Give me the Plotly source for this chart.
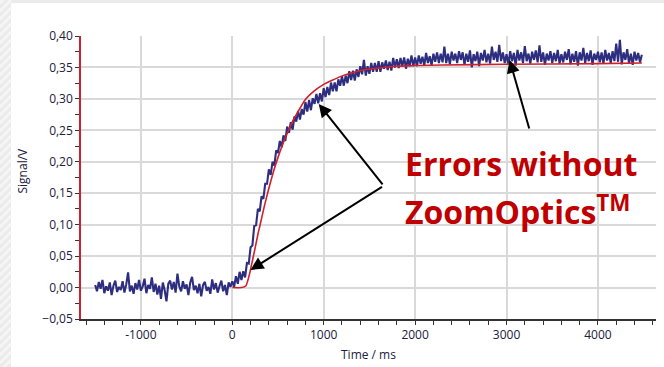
import plotly.graph_objects as go

# ---------------- data ----------------
time_start_ms = -1500
time_step_ms = 20

signal_baseline = [
    0.004, -0.006, 0.009, -0.002, 0.012, -0.009, 0.002, -0.005, 0.008, -0.012,
    0.003, 0.011, -0.007, 0.001, -0.004, 0.010, -0.008, 0.005, 0.024, -0.006,
    0.003, -0.010, 0.007, -0.003, 0.012, -0.005, 0.002, 0.014, -0.009, 0.004,
    -0.002, 0.016, -0.007, 0.006, -0.011, 0.003, -0.018, 0.008, -0.004, -0.022,
    0.006, 0.011, -0.003, 0.009, -0.008, 0.022, 0.002, -0.006, 0.010, -0.002,
    0.005, -0.012, 0.008, 0.017, -0.004, 0.003, -0.009, 0.006, -0.014, 0.004,
    0.009, -0.005, 0.001, -0.010, 0.013, -0.003, 0.007, -0.008, 0.002, 0.011,
    -0.006, 0.004, -0.012, 0.008, 0.001,
]
signal_rise = [
    0.010, 0.001, 0.018, 0.006, 0.025, 0.012, 0.026, 0.016, 0.039, 0.038,
    0.064, 0.067, 0.098, 0.099, 0.125, 0.121, 0.145, 0.141, 0.165, 0.165,
    0.188, 0.179, 0.200, 0.194, 0.218, 0.214, 0.233, 0.223, 0.242, 0.233,
    0.256, 0.246, 0.263, 0.251, 0.272, 0.264, 0.281, 0.267, 0.284, 0.275,
    0.295, 0.280, 0.298, 0.282, 0.301, 0.292, 0.308, 0.293, 0.309, 0.296,
    0.317, 0.303, 0.319, 0.306, 0.326, 0.312, 0.326, 0.312, 0.331, 0.321,
    0.336, 0.321, 0.337, 0.325, 0.344, 0.330, 0.345, 0.329, 0.347, 0.335,
    0.352, 0.339, 0.362, 0.337, 0.352, 0.340, 0.357, 0.343, 0.357, 0.343,
    0.360, 0.343, 0.358, 0.348, 0.361, 0.346, 0.359, 0.345, 0.365, 0.350,
    0.363, 0.349, 0.365, 0.352, 0.366, 0.348, 0.364, 0.352, 0.369, 0.352,
]
signal_plateau = [
    0.366, 0.352, 0.369, 0.356, 0.367, 0.353, 0.373, 0.357, 0.368, 0.353,
    0.372, 0.359, 0.374, 0.357, 0.372, 0.358, 0.383, 0.357, 0.372, 0.355,
    0.375, 0.361, 0.372, 0.357, 0.376, 0.362, 0.374, 0.354, 0.372, 0.359,
    0.377, 0.350, 0.371, 0.360, 0.375, 0.352, 0.373, 0.361, 0.378, 0.358,
    0.372, 0.356, 0.383, 0.362, 0.375, 0.359, 0.386, 0.360, 0.374, 0.357,
    0.371, 0.355, 0.376, 0.360, 0.373, 0.353, 0.378, 0.361, 0.374, 0.357,
    0.384, 0.360, 0.372, 0.356, 0.375, 0.362, 0.377, 0.358, 0.385, 0.359,
    0.374, 0.354, 0.372, 0.361, 0.376, 0.357, 0.373, 0.360, 0.378, 0.356,
    0.371, 0.358, 0.375, 0.362, 0.379, 0.355, 0.372, 0.359, 0.376, 0.353,
    0.374, 0.361, 0.381, 0.357, 0.373, 0.360, 0.377, 0.354, 0.372, 0.362,
    0.375, 0.358, 0.374, 0.356, 0.378, 0.361, 0.373, 0.357, 0.376, 0.360,
    0.388, 0.359, 0.394, 0.355, 0.374, 0.362, 0.379, 0.356, 0.372, 0.354,
    0.375, 0.361, 0.373, 0.358, 0.370,
]
signal_v = signal_baseline + signal_rise + signal_plateau
time_ms = [time_start_ms + i * time_step_ms for i in range(len(signal_v))]

fit_time_ms = [0, 100, 150, 191, 200, 250, 282, 300, 350, 400, 450, 500, 555, 600,
               665, 700, 800, 900, 957, 1000, 1100, 1175, 1300, 1430, 1600, 1795,
               2000, 2300, 3000, 4000, 4480]
fit_v = [0.0, 0.0, 0.003, 0.023, 0.029, 0.063, 0.086, 0.097, 0.129, 0.158, 0.184,
         0.207, 0.229, 0.245, 0.266, 0.275, 0.299, 0.313, 0.319, 0.323, 0.330,
         0.335, 0.341, 0.346, 0.349, 0.352, 0.353, 0.354, 0.355, 0.356, 0.357]

x_tick_vals = [-1000, 0, 1000, 2000, 3000, 4000]
y_tick_vals = [-0.05, 0.0, 0.05, 0.10, 0.15, 0.20, 0.25, 0.30, 0.35, 0.40]

# arrow tips (data) and tails (pixel offsets)
arrow_tip_ms = [199, 946, 3034]
arrow_tip_v = [0.028, 0.292, 0.362]
arrow_ax = [133, 65, 20]
arrow_ay = [-84, 82, 70]

# ---------------- figure ----------------
BLUE = "#2e2e80"
RED = "#d0202c"
TXT = "#20203a"

fig = go.Figure()
fig.add_trace(go.Scatter(x=time_ms, y=signal_v, mode="lines",
                         line=dict(color=BLUE, width=2.1), hoverinfo="skip"))
fig.add_trace(go.Scatter(x=fit_time_ms, y=fit_v, mode="lines",
                         line=dict(color=RED, width=1.6, shape="spline", smoothing=0.5),
                         hoverinfo="skip"))

W, H = 664, 367
ml, mr, mt, mb = 81, 8, 36, 48
pw, ph = W - ml - mr, H - mt - mb


def px_to_paper_x(px):
    return (px - ml) / pw


def px_to_paper_y(py):
    return (H - mb - py) / ph


shapes = [dict(type="rect", xref="paper", yref="paper",
               x0=px_to_paper_x(11), x1=px_to_paper_x(670),
               y0=px_to_paper_y(372), y1=px_to_paper_y(3),
               fillcolor="white", line=dict(width=0), layer="below")]
# faint diagonal stripes of the grey frame on the left
for k in range(-2, 48):
    y_top = k * 8
    shapes.append(dict(type="line", xref="paper", yref="paper",
                       x0=px_to_paper_x(0), y0=px_to_paper_y(y_top + 11),
                       x1=px_to_paper_x(11), y1=px_to_paper_y(y_top),
                       line=dict(color="#f6f6f6", width=2.5), layer="below"))

annotations = []
for tx, ty, ax, ay in zip(arrow_tip_ms, arrow_tip_v, arrow_ax, arrow_ay):
    annotations.append(dict(x=tx, y=ty, xref="x", yref="y", ax=ax, ay=ay,
                            text="", showarrow=True, arrowhead=2, arrowsize=1.3,
                            arrowwidth=2, arrowcolor="black", standoff=0))

annotations.append(dict(x=px_to_paper_x(403), y=px_to_paper_y(163.5), xref="paper",
                        yref="paper", xanchor="left", yanchor="middle",
                        text="<b>Errors without</b>", showarrow=False,
                        font=dict(family="Open Sans", size=32, color="#c00000")))
annotations.append(dict(x=px_to_paper_x(403), y=px_to_paper_y(209.5), xref="paper",
                        yref="paper", xanchor="left", yanchor="middle",
                        text="<b>ZoomOptics<sup>TM</sup></b>", showarrow=False,
                        font=dict(family="Open Sans", size=32, color="#c00000")))
annotations.append(dict(x=px_to_paper_x(22.5), y=px_to_paper_y(171), xref="paper",
                        yref="paper", xanchor="center", yanchor="middle",
                        text="Signal/V", textangle=-90, showarrow=False,
                        font=dict(family="Open Sans", size=12, color=TXT)))
annotations.append(dict(x=px_to_paper_x(368), y=px_to_paper_y(354), xref="paper",
                        yref="paper", xanchor="center", yanchor="middle",
                        text="Time / ms", showarrow=False,
                        font=dict(family="Open Sans", size=12, color=TXT)))

fig.update_layout(
    width=W, height=H,
    margin=dict(l=ml, r=mr, t=mt, b=mb, pad=0),
    paper_bgcolor="#ebebeb",
    plot_bgcolor="white",
    showlegend=False,
    separators=", ",
    shapes=shapes,
    annotations=annotations,
    font=dict(family="Open Sans", size=12, color=TXT),
)
fig.update_xaxes(
    range=[-1655, 4635], tickvals=x_tick_vals, ticktext=[str(v) for v in x_tick_vals],
    showgrid=True, gridcolor="#d9d9d9", gridwidth=1.5, zeroline=False,
    showline=True, linecolor="#333333", linewidth=1.5,
    ticks="outside", ticklen=4, tickwidth=1.2, tickcolor="#333333",
    minor=dict(dtick=200, tick0=0, ticks="outside", ticklen=4, tickwidth=1.2,
               tickcolor="#333333", showgrid=False),
    tickfont=dict(family="Open Sans", size=12, color=TXT),
)
fig.update_yaxes(
    range=[-0.05, 0.40], tickvals=y_tick_vals, tickformat=".2f",
    showgrid=True, gridcolor="#d9d9d9", gridwidth=1.5, zeroline=False,
    showline=True, linecolor=RED, linewidth=1.5,
    ticks="outside", ticklen=4, tickwidth=1.2, tickcolor="#333333",
    minor=dict(dtick=0.025, tick0=0, ticks="outside", ticklen=4, tickwidth=1.2,
               tickcolor="#333333", showgrid=False),
    tickfont=dict(family="Open Sans", size=12, color=TXT),
)

fig.write_html("out.html", config={"displayModeBar": False},
               post_script="document.body.style.margin='0';document.body.style.overflow='hidden';")
